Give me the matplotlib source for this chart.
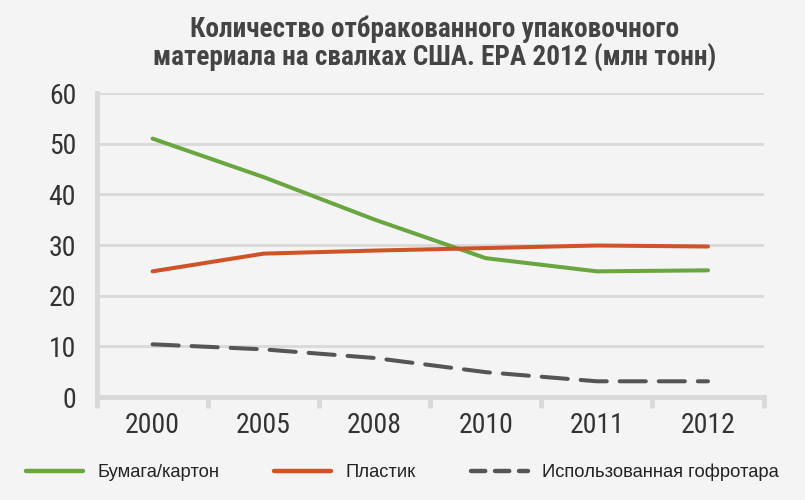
import matplotlib
matplotlib.use("Agg")
import matplotlib.pyplot as plt
from matplotlib import font_manager
from matplotlib.lines import Line2D
import numpy as np

# Data
years = ["2000", "2005", "2008", "2010", "2011", "2012"]
paper = [51.0, 43.4, 35.0, 27.4, 24.8, 25.0]
plastic = [24.8, 28.3, 28.9, 29.4, 29.9, 29.7]
corrugated = [10.4, 9.4, 7.7, 4.9, 3.1, 3.1]

series_names = ["Бумага/картон", "Пластик", "Использованная гофротара"]
title = "Количество отбракованного упаковочного\nматериала на свалках США. EPA 2012 (млн тонн)"

installed = {f.name for f in font_manager.fontManager.ttflist}


def pick(*names):
    for n in names:
        if n in installed:
            return n
    return "DejaVu Sans"


narrow = pick("Liberation Sans Narrow", "Roboto Condensed", "Open Sans Condensed", "Liberation Sans")
regular = pick("Liberation Sans", "Roboto", "DejaVu Sans")

bg = "#f4f4f4"
grid_col = "#d9d9d9"
green = "#6aa640"
red = "#cf5326"
gray = "#555555"

fig = plt.figure(figsize=(8.05, 5.0), dpi=100, facecolor=bg)
ax = fig.add_axes([0.1205, 0.206, 0.828, 0.608], facecolor=bg)

x = np.arange(len(years))
ax.plot(x, paper, color=green, lw=2.9, solid_capstyle="round")
ax.plot(x, plastic, color=red, lw=2.9, solid_capstyle="round")
ax.plot(x, corrugated, color=gray, lw=2.9, dashes=(6.5, 3.2), dash_capstyle="round")

ax.set_xlim(-0.5, len(years) - 0.5)
ax.set_ylim(0, 60)
ax.set_yticks(range(0, 61, 10))

# category labels at centres, tick marks on the boundaries
ax.set_xticks(x)
ax.set_xticklabels(years)
ax.set_xticks(np.arange(-0.5, len(years), 1.0), minor=True)
ax.tick_params(axis="x", which="major", length=0, pad=11, labelsize=20, labelcolor="#333333")
ax.tick_params(axis="x", which="minor", length=8, width=3.5, color=grid_col, direction="out")
ax.tick_params(axis="y", length=0, pad=15, labelsize=20, labelcolor="#333333")
for lab in ax.get_xticklabels() + ax.get_yticklabels():
    lab.set_fontfamily(narrow)

ax.yaxis.grid(True, color=grid_col, lw=2)
ax.set_axisbelow(True)
for s in ["top", "right"]:
    ax.spines[s].set_visible(False)
for s in ["left", "bottom"]:
    ax.spines[s].set_color(grid_col)
    ax.spines[s].set_linewidth(3.5)
ax.spines["left"].set_bounds(0, 60)

fig.text(0.54, 0.913, title, ha="center", va="center", fontsize=19.6,
         fontweight="bold", family=narrow, color="#444444", linespacing=1.02)

handles = [
    Line2D([], [], color=green, lw=3.2, solid_capstyle="round"),
    Line2D([], [], color=red, lw=3.2, solid_capstyle="round"),
    Line2D([], [], color=gray, lw=3.2, dashes=(3.2, 2.2), dash_capstyle="round"),
]
fig.legend(handles, series_names, loc="center", bbox_to_anchor=(0.5, 0.055),
           ncol=3, frameon=False, prop={"family": regular, "size": 13.2},
           handlelength=3.1, handletextpad=0.8, columnspacing=3.0, labelcolor="#222222")

fig.savefig("out.png", dpi=100, facecolor=bg)
